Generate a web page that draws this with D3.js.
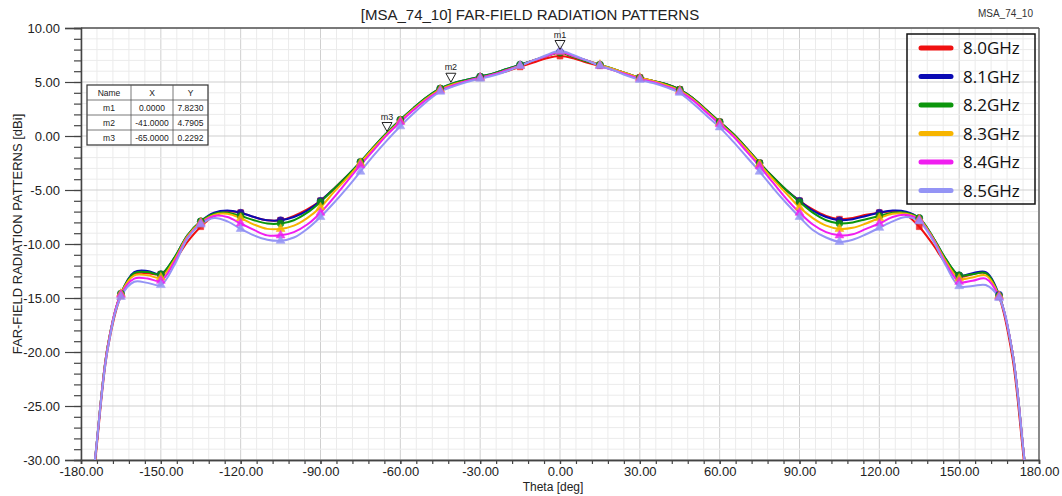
<!DOCTYPE html>
<html>
<head>
<meta charset="utf-8">
<script src="https://cdn.jsdelivr.net/npm/d3@7"></script>
<style>
  html, body { margin: 0; padding: 0; background: #ffffff; }
  svg { display: block; font-family: "Liberation Sans", Arial, sans-serif; }
</style>
</head>
<body>
<svg id="chart" width="1062" height="496"></svg>
<script>
// ---------------- DATA ----------------
const chartTitle = "[MSA_74_10] FAR-FIELD RADIATION PATTERNS";
const projectTag = "MSA_74_10";
const xAxisTitle = "Theta [deg]";
const yAxisTitle = "FAR-FIELD RADIATION PATTERNS [dBi]";

const seriesNames = ["8.0GHz", "8.1GHz", "8.2GHz", "8.3GHz", "8.4GHz", "8.5GHz"];

// theta from -180 to 180 in 5 degree steps
const theta = [-180,-175,-170,-165,-160,-155,-150,-145,-140,-135,-130,-125,-120,-115,-110,-105,-100,-95,-90,-85,-80,-75,-70,-65,-60,-55,-50,-45,-40,-35,-30,-25,-20,-15,-10,-5,
  0,5,10,15,20,25,30,35,40,45,50,55,60,65,70,75,80,85,90,95,100,105,110,115,120,125,130,135,140,145,150,155,160,165,170,175,180];

const gain80 = [-40,-30.8,-19.8,-14.8,-12.8,-12.7,-12.8,-11.6,-9.8,-8.4,-7.4,-7.0,-7.1,-7.5,-7.8,-7.8,-7.4,-6.8,-6.0,-4.9,-3.7,-2.5,-1.2,0.2,1.4,2.5,3.5,4.3,4.8,5.1,5.4,5.7,6.0,6.4,6.8,7.2,
  7.4,7.2,6.8,6.5,6.1,5.7,5.4,5.1,4.8,4.3,3.5,2.4,1.3,0.2,-1.1,-2.5,-3.8,-5.0,-6.0,-6.8,-7.4,-7.7,-7.6,-7.3,-7.1,-7.0,-7.3,-8.4,-10.0,-11.8,-13.0,-12.8,-12.7,-14.9,-20.5,-31.5,-40];

const gain81 = [-40,-30.5,-19.5,-14.6,-12.6,-12.5,-12.8,-11.3,-9.2,-7.9,-7.1,-6.9,-7.1,-7.5,-7.8,-7.8,-7.5,-6.9,-6.0,-4.9,-3.7,-2.4,-1.0,0.3,1.5,2.6,3.6,4.4,4.9,5.2,5.5,5.8,6.2,6.6,7.0,7.4,
  7.8,7.4,7.0,6.6,6.2,5.8,5.4,5.1,4.8,4.3,3.5,2.4,1.3,0.2,-1.1,-2.5,-3.8,-5.0,-6.0,-6.9,-7.5,-7.8,-7.7,-7.4,-7.1,-6.9,-7.0,-7.6,-9.3,-11.4,-12.9,-12.7,-12.6,-14.7,-20.0,-31.0,-40];

const gain82 = [-40,-30.5,-19.5,-14.6,-12.7,-12.6,-12.8,-11.3,-9.2,-7.9,-7.2,-7.1,-7.4,-7.8,-8.1,-8.1,-7.8,-7.1,-6.1,-4.9,-3.7,-2.4,-1.0,0.3,1.5,2.6,3.6,4.4,4.9,5.2,5.5,5.8,6.2,6.6,7.0,7.4,
  7.7,7.3,6.9,6.6,6.2,5.8,5.4,5.1,4.8,4.3,3.5,2.4,1.3,0.2,-1.1,-2.5,-3.8,-5.0,-6.1,-7.1,-7.8,-8.1,-8.0,-7.7,-7.4,-7.1,-7.1,-7.6,-9.3,-11.4,-12.9,-12.8,-12.7,-14.8,-20.0,-31.0,-40];

const gain83 = [-40,-30.5,-19.5,-14.6,-12.9,-12.9,-13.1,-11.5,-9.3,-8.0,-7.3,-7.2,-7.6,-8.2,-8.6,-8.6,-8.3,-7.6,-6.6,-5.2,-3.9,-2.5,-1.1,0.2,1.4,2.5,3.5,4.3,4.8,5.1,5.4,5.7,6.1,6.5,7.0,7.4,
  7.8,7.4,7.0,6.6,6.2,5.8,5.4,5.1,4.7,4.2,3.4,2.3,1.2,0.1,-1.2,-2.6,-4.0,-5.3,-6.6,-7.6,-8.3,-8.6,-8.5,-8.1,-7.6,-7.2,-7.2,-7.7,-9.4,-11.6,-13.2,-13.1,-12.9,-14.8,-20.0,-31.0,-40];

const gain84 = [-40,-30.5,-19.6,-14.7,-13.2,-13.2,-13.4,-11.7,-9.4,-8.1,-7.4,-7.5,-8.1,-8.7,-9.2,-9.2,-8.9,-8.2,-7.1,-5.7,-4.2,-2.7,-1.3,0.1,1.3,2.4,3.4,4.2,4.7,5.1,5.4,5.7,6.1,6.5,7.0,7.4,
  7.8,7.4,7.0,6.5,6.1,5.7,5.3,5.0,4.6,4.1,3.3,2.2,1.1,0.0,-1.4,-2.8,-4.3,-5.8,-7.1,-8.2,-8.9,-9.2,-9.1,-8.6,-8.1,-7.5,-7.3,-7.8,-9.5,-11.8,-13.5,-13.4,-13.2,-14.9,-20.0,-31.0,-40];

const gain85 = [-40,-30.5,-19.8,-14.9,-13.5,-13.6,-13.8,-12.0,-9.5,-8.2,-7.6,-7.9,-8.6,-9.2,-9.6,-9.7,-9.4,-8.6,-7.5,-6.2,-4.8,-3.3,-1.8,-0.4,0.9,2.1,3.2,4.1,4.6,5.0,5.3,5.6,6.0,6.5,7.0,7.5,
  7.9,7.5,7.0,6.5,6.1,5.6,5.2,4.9,4.5,4.0,3.0,1.9,0.8,-0.5,-1.9,-3.3,-4.8,-6.2,-7.5,-8.7,-9.4,-9.8,-9.6,-9.1,-8.5,-7.9,-7.5,-7.9,-9.6,-12.0,-13.9,-13.9,-13.8,-15.0,-20.0,-31.0,-40];

const seriesValues = [gain80, gain81, gain82, gain83, gain84, gain85];

const xTickValues = [-180,-150,-120,-90,-60,-30,0,30,60,90,120,150,180];
const yTickValues = [10,5,0,-5,-10,-15,-20,-25,-30];

// marker table
const markerNames = ["m1", "m2", "m3"];
const markerX = [0.0, -41.0, -65.0];
const markerY = [7.8230, 4.7905, 0.2292];
const markerXText = ["0.0000", "-41.0000", "-65.0000"];
const markerYText = ["7.8230", "4.7905", "0.2292"];

// ---------------- DRAW ----------------
(function () {
const colors = ["#f01010", "#0a0ab4", "#0c960c", "#f7b500", "#f01ef0", "#9494f5"];
const symbols = [d3.symbolSquare, d3.symbolCircle, d3.symbolCircle, d3.symbolTriangle, d3.symbolTriangle, d3.symbolTriangle];

const svg = d3.select("#chart");
const pL = 81, pR = 1039, pT = 28, pB = 460;

const x = d3.scaleLinear().domain([-180, 180]).range([pL, pR]);
const y = d3.scaleLinear().domain([-30, 10]).range([pB, pT]);

// grid
const grid = svg.append("g");
const xMinor = d3.range(-180, 181, 6);
const yMinor = d3.range(-30, 10.01, 1);
grid.selectAll("line.vx").data(xMinor).join("line")
  .attr("x1", d => x(d)).attr("x2", d => x(d))
  .attr("y1", pT).attr("y2", pB)
  .attr("stroke", d => (d % 30 === 0) ? "#cfcfcf" : "#ebebeb")
  .attr("stroke-width", 1);
grid.selectAll("line.hy").data(yMinor).join("line")
  .attr("x1", pL).attr("x2", pR)
  .attr("y1", d => y(d)).attr("y2", d => y(d))
  .attr("stroke", d => (d % 5 === 0) ? "#cfcfcf" : "#ebebeb")
  .attr("stroke-width", 1);

// frame (top and right)
svg.append("line").attr("x1", pL).attr("x2", pR).attr("y1", pT).attr("y2", pT)
  .attr("stroke", "#555").attr("stroke-width", 1.3);
svg.append("line").attr("x1", pR).attr("x2", pR).attr("y1", pT).attr("y2", pB)
  .attr("stroke", "#555").attr("stroke-width", 1.3);

// axes
const fmt = d => d.toFixed(2);
const yAxisMinor = d3.axisLeft(y).tickValues(yMinor).tickSize(7).tickFormat("");
const yAxisMajor = d3.axisLeft(y).tickValues(yTickValues).tickSize(16).tickPadding(5).tickFormat(fmt);
const gyMinor = svg.append("g").attr("transform", `translate(${pL},0)`).call(yAxisMinor);
const gy = svg.append("g").attr("transform", `translate(${pL},0)`).call(yAxisMajor);
[gyMinor, gy].forEach(g => {
  g.select(".domain").attr("stroke", "#444").attr("stroke-width", 1.3);
  g.selectAll(".tick line").attr("stroke", "#444").attr("stroke-width", 1.2);
});
gy.selectAll(".tick text").attr("font-size", 13).attr("fill", "#222")
  .attr("font-family", "Liberation Sans, Arial, sans-serif");

const xAxisMinor = d3.axisBottom(x).tickValues(xMinor).tickSize(4).tickFormat("");
const xAxisMajor = d3.axisBottom(x).tickValues(xTickValues).tickSize(4).tickPadding(3).tickFormat(fmt);
const gxMinor = svg.append("g").attr("transform", `translate(0,${pB})`).call(xAxisMinor);
const gx = svg.append("g").attr("transform", `translate(0,${pB})`).call(xAxisMajor);
[gxMinor, gx].forEach(g => {
  g.select(".domain").attr("stroke", "#444").attr("stroke-width", 1.3);
  g.selectAll(".tick line").attr("stroke", "#444").attr("stroke-width", 1.2);
});
gx.selectAll(".tick text").attr("font-size", 13).attr("fill", "#222")
  .attr("font-family", "Liberation Sans, Arial, sans-serif");

// titles
svg.append("text").attr("x", 530).attr("y", 20).attr("text-anchor", "middle")
  .attr("font-size", 15).attr("fill", "#222").text(chartTitle);
svg.append("text").attr("x", 1033).attr("y", 17).attr("text-anchor", "end")
  .attr("font-size", 10).attr("fill", "#333").text(projectTag);
svg.append("text").attr("x", 553).attr("y", 491).attr("text-anchor", "middle")
  .attr("font-size", 12).attr("fill", "#222").text(xAxisTitle);
svg.append("text").attr("transform", "translate(22,234) rotate(-90)").attr("text-anchor", "middle")
  .attr("font-size", 13).attr("fill", "#222").text(yAxisTitle);

// clip
svg.append("clipPath").attr("id", "plotclip").append("rect")
  .attr("x", pL).attr("y", pT).attr("width", pR - pL).attr("height", pB - pT);

const plot = svg.append("g").attr("clip-path", "url(#plotclip)");
const line = d3.line().x(d => x(d[0])).y(d => y(d[1])).curve(d3.curveCatmullRom.alpha(0.5));

seriesValues.forEach((vals, i) => {
  const pts = theta.map((t, k) => [t, vals[k]]);
  plot.append("path").datum(pts)
    .attr("d", line)
    .attr("fill", "none")
    .attr("stroke", colors[i])
    .attr("stroke-width", 2)
    .attr("stroke-linejoin", "round");
});
seriesValues.forEach((vals, i) => {
  const pts = theta.map((t, k) => [t, vals[k]]).filter(p => p[0] % 15 === 0 && Math.abs(p[0]) <= 165);
  plot.selectAll(null).data(pts).join("path")
    .attr("transform", p => `translate(${x(p[0])},${y(p[1])})`)
    .attr("d", d3.symbol().type(symbols[i]).size(i === 1 || i === 2 ? 38 : 34))
    .attr("fill", colors[i])
    .attr("stroke", colors[i])
    .attr("stroke-width", 0.6)
    .attr("opacity", 0.85);
});

// marker triangles
const mk = svg.append("g");
markerNames.forEach((nm, i) => {
  const px = x(markerX[i]), py = y(markerY[i]);
  mk.append("path")
    .attr("d", `M${px - 5},${py - 11} L${px + 5},${py - 11} L${px},${py - 2} Z`)
    .attr("fill", "white").attr("fill-opacity", 0.6).attr("stroke", "#222").attr("stroke-width", 1);
  mk.append("text").attr("x", px).attr("y", py - 14).attr("text-anchor", "middle")
    .attr("font-size", 9).attr("fill", "#222").text(nm);
});

// marker table
const tbl = svg.append("g");
const tx = 87, ty = 85, colW = [44, 42, 35], rowH = 15;
const tW = d3.sum(colW), tH = rowH * 4;
tbl.append("rect").attr("x", tx).attr("y", ty).attr("width", tW).attr("height", tH)
  .attr("fill", "white").attr("stroke", "#333").attr("stroke-width", 1.2);
for (let r = 1; r < 4; r++) {
  tbl.append("line").attr("x1", tx).attr("x2", tx + tW).attr("y1", ty + r * rowH).attr("y2", ty + r * rowH)
    .attr("stroke", "#555").attr("stroke-width", 0.8);
}
let cx = tx;
for (let c = 0; c < 2; c++) {
  cx += colW[c];
  tbl.append("line").attr("x1", cx).attr("x2", cx).attr("y1", ty).attr("y2", ty + tH)
    .attr("stroke", "#555").attr("stroke-width", 0.8);
}
const colCenters = [tx + colW[0] / 2, tx + colW[0] + colW[1] / 2, tx + colW[0] + colW[1] + colW[2] / 2];
const rowsText = [["Name", "X", "Y"]].concat(markerNames.map((n, i) => [n, markerXText[i], markerYText[i]]));
rowsText.forEach((row, r) => {
  row.forEach((t, c) => {
    tbl.append("text").attr("x", colCenters[c]).attr("y", ty + r * rowH + rowH / 2 + 3)
      .attr("text-anchor", "middle").attr("font-size", 8.5).attr("fill", "#222").text(t);
  });
});

// legend
const lg = svg.append("g");
lg.append("rect").attr("x", 907).attr("y", 34).attr("width", 128).attr("height", 170)
  .attr("fill", "none").attr("stroke", "#111").attr("stroke-width", 1.5);
seriesNames.forEach((nm, i) => {
  const ly = 48 + i * 28.5;
  lg.append("line").attr("x1", 921).attr("x2", 951).attr("y1", ly).attr("y2", ly)
    .attr("stroke", colors[i]).attr("stroke-width", 5).attr("stroke-linecap", "round");
  lg.append("text").attr("x", 963).attr("y", ly + 6).attr("font-size", 17)
    .attr("font-family", "Open Sans, Liberation Sans, sans-serif")
    .attr("fill", "#111").text(nm);
});
})();
</script>
</body>
</html>
